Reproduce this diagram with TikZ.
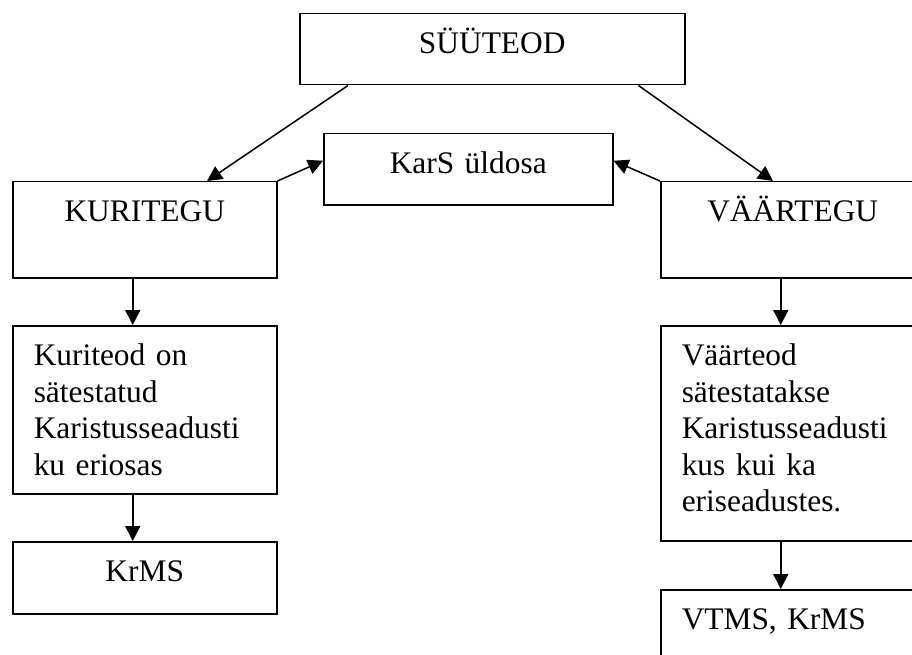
\documentclass[tikz,border=0pt]{standalone}
\usepackage{fontspec}
\setmainfont{Liberation Serif}
\usetikzlibrary{arrows.meta}

\begin{document}
\begin{tikzpicture}[x=1pt, y=-1pt,
	box/.style={draw, line width=1.5pt, anchor=north west, inner xsep=21pt, inner ysep=0pt,
		text height=40pt, font=\fontsize{31.4}{36.5}\selectfont},
	>={Triangle[length=15pt, width=15pt]}]
	\path[use as bounding box, clip] (0,0) rectangle (912,655);
	% boxes
	\node[box, text width=343pt, text depth=31pt, align=center] (suuteod) at (299,13) {SÜÜTEOD};
	\node[box, text width=247pt, text depth=31pt, align=center] (kars) at (323,133) {KarS üldosa};
	\node[box, text width=222pt, text depth=56pt, align=center] (kuritegu) at (12,181) {KURITEGU};
	\node[box, text width=222pt, text depth=56pt, align=center] (vaartegu) at (660,181) {VÄÄRTEGU};
	\node[box, text width=222pt, text depth=128pt, align=left] (kuriteod) at (12,325)
		{Kuriteod on\\ sätestatud\\ Karistusseadusti\\ ku eriosas};
	\node[box, text width=222pt, text depth=175pt, align=left] (vaarteod) at (660,325)
		{Väärteod\\ sätestatakse\\ Karistusseadusti\\ kus kui ka\\ eriseadustes.};
	\node[box, text width=222pt, text depth=32pt, align=center] (krms) at (12,541) {KrMS};
	\node[box, text width=222pt, text depth=32pt, align=left] (vtms) at (660,589) {VTMS, KrMS};
	% arrows
	\draw[line width=1.5pt, ->] ([xshift=49pt]suuteod.south west) -- ([xshift=195pt]kuritegu.north west);
	\draw[line width=1.5pt, ->] ([xshift=-47pt]suuteod.south east) -- ([xshift=113pt]vaartegu.north west);
	\draw[line width=1.5pt, ->] (kuritegu.north east) -- ([yshift=8.5pt]kars.west);
	\draw[line width=1.5pt, ->] (vaartegu.north west) -- ([yshift=8.5pt]kars.east);
	\draw[line width=1.5pt, ->] ([xshift=-12pt]kuritegu.south) -- ([xshift=-12pt]kuriteod.north);
	\draw[line width=1.5pt, ->] ([xshift=-12pt]kuriteod.south) -- ([xshift=-12pt]krms.north);
	\draw[line width=1.5pt, ->] ([xshift=-12pt]vaartegu.south) -- ([xshift=-12pt]vaarteod.north);
	\draw[line width=1.5pt, ->] ([xshift=-12pt]vaarteod.south) -- ([xshift=-12pt]vtms.north);
\end{tikzpicture}
\end{document}
